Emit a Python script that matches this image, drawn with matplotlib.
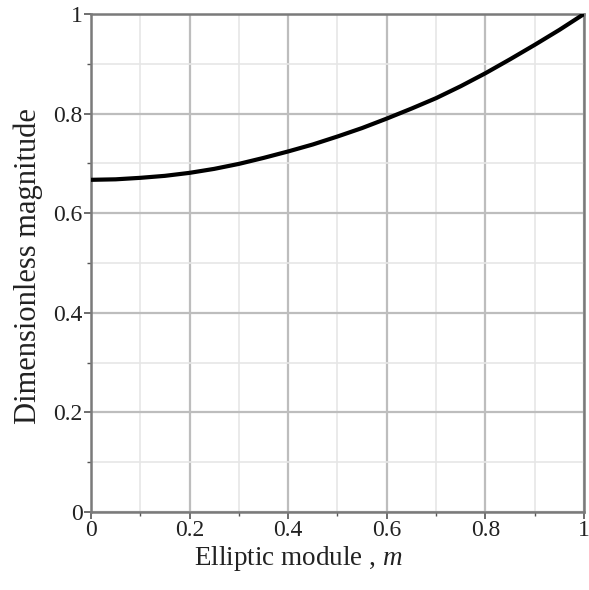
import matplotlib
matplotlib.use("Agg")
import matplotlib.pyplot as plt
from matplotlib.ticker import MultipleLocator

m_values = [0.0, 0.05, 0.1, 0.15, 0.2, 0.25, 0.3, 0.35, 0.4, 0.45, 0.5,
            0.55, 0.6, 0.65, 0.7, 0.75, 0.8, 0.85, 0.9, 0.95, 1.0]
magnitude = [0.667, 0.668, 0.671, 0.675, 0.681, 0.689, 0.699, 0.711, 0.724, 0.738, 0.754,
             0.771, 0.790, 0.810, 0.831, 0.855, 0.881, 0.909, 0.938, 0.968, 1.0]
x_ticks = [0, 0.2, 0.4, 0.6, 0.8, 1]
x_tick_labels = ["0", "0.2", "0.4", "0.6", "0.8", "1"]
y_ticks = [0, 0.2, 0.4, 0.6, 0.8, 1]
y_tick_labels = ["0", "0.2", "0.4", "0.6", "0.8", "1"]

plt.rcParams['font.family'] = ['Liberation Serif', 'DejaVu Serif']
plt.rcParams['mathtext.fontset'] = 'custom'
plt.rcParams['mathtext.rm'] = 'Liberation Serif'
plt.rcParams['mathtext.it'] = 'Liberation Serif:italic'

fig = plt.figure(figsize=(5.89, 5.90), dpi=100)
ax = fig.add_axes([0.1545, 0.1322, 0.8370, 0.8441])

ax.set_xlim(0, 1)
ax.set_ylim(0, 1)
ax.xaxis.set_minor_locator(MultipleLocator(0.1))
ax.yaxis.set_minor_locator(MultipleLocator(0.1))
ax.set_xticks(x_ticks)
ax.set_xticklabels(x_tick_labels)
ax.set_yticks(y_ticks)
ax.set_yticklabels(y_tick_labels)

ax.grid(which='major', color='#bdbdbd', linewidth=1.6)
ax.grid(which='minor', color='#e6e6e6', linewidth=1.2)
ax.set_axisbelow(True)

ax.plot(m_values, magnitude, color='black', linewidth=3.0, solid_capstyle='round',
        solid_joinstyle='round', zorder=3)

for s in ax.spines.values():
    s.set_color('#7a7a7a')
    s.set_linewidth(1.8)

ax.tick_params(which='major', direction='out', length=5, width=1.2, color='#555555',
               labelsize=17, pad=1, labelcolor='#222222')
ax.tick_params(which='minor', direction='out', length=3, width=1.0, color='#555555')

fig.text(298 / 589, 1 - 565 / 590, "Elliptic module , $\\mathit{m}$", fontsize=19.5,
         ha='center', va='baseline', color='#222222')
fig.text(28.5 / 589, 1 - 266 / 590, "Dimensionless magnitude", fontsize=22,
         rotation=90, ha='center', va='center', color='#222222')

fig.savefig("out.png", dpi=100, facecolor='white')
